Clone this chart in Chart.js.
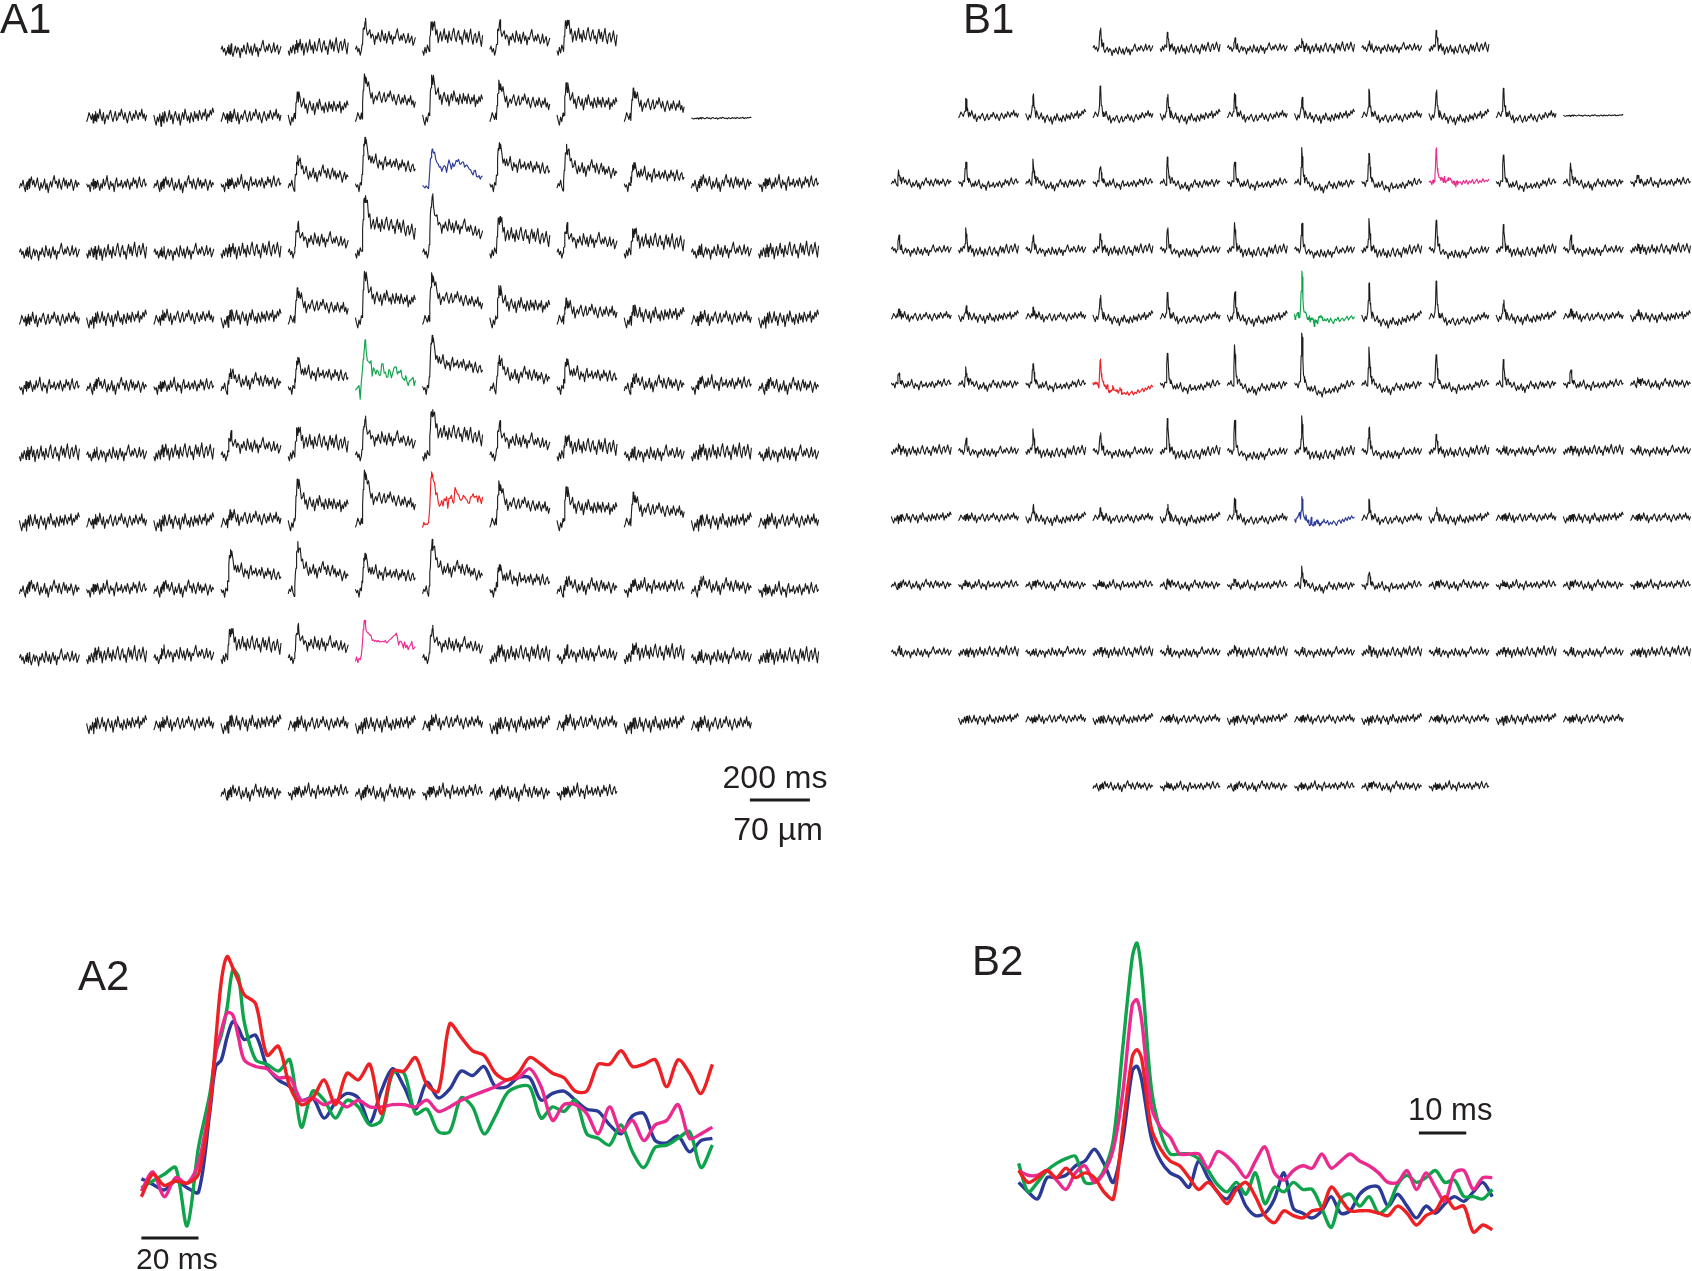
<!DOCTYPE html>
<html>
<head>
<meta charset="utf-8">
<script src="https://cdn.jsdelivr.net/npm/chart.js@4.4.0/dist/chart.umd.min.js"></script>
<style>
html,body{margin:0;padding:0;background:#fff;}
body{width:1692px;height:1271px;overflow:hidden;position:relative;font-family:"Liberation Sans",Arial,Helvetica,sans-serif;color:#231f20;}
canvas{position:absolute;}
.lbl{position:absolute;line-height:1;white-space:nowrap;}
</style>
</head>
<body>
<canvas id="cA1"></canvas>
<canvas id="cB1"></canvas>
<canvas id="cA2"></canvas>
<canvas id="cB2"></canvas>

<div class="lbl" style="left:0px;top:-2px;font-size:42px;">A1</div>
<div class="lbl" style="left:963px;top:-2px;font-size:42px;">B1</div>
<div class="lbl" style="left:78px;top:955px;font-size:42px;">A2</div>
<div class="lbl" style="left:972px;top:940px;font-size:42px;">B2</div>
<div class="lbl" style="left:675px;top:761px;width:200px;text-align:center;font-size:32px;">200 ms</div>
<div class="lbl" style="left:678px;top:813px;width:200px;text-align:center;font-size:32px;">70 µm</div>
<div class="lbl" style="left:136px;top:1244px;font-size:30px;">20 ms</div>
<div class="lbl" style="left:1408px;top:1094px;font-size:31px;">10 ms</div>

<script>
// ---------------- DATA ----------------
// sample times (ms) inside one grid cell (each cell = 200 ms)
const cellTime = [0,4,8,12,16,20,22,24,26,28,30,32,34,36,40,44,48,52,56,60,64,68,72,76,80,84,88,92,96,100,104,108,112,116,120,124,128,132,136,140,144,148,152,156,160,164,168,172,176,180,184,188,192,196,200];

// response templates (peak = 1) on cellTime
const shapeA = [0,0,0,0,0,0.02,0.1,0.35,0.62,0.82,0.94,1.0,0.96,0.9,
  0.8,0.68,0.62,0.56,0.5,0.5,0.49,0.48,0.48,0.47,
  0.47,0.47,0.48,0.48,0.47,0.47,0.46,0.47,0.47,0.46,
  0.46,0.46,0.45,0.45,0.45,0.44,0.43,0.42,0.41,0.4,
  0.39,0.38,0.37,0.36,0.35,0.35,0.34,0.34,0.33,0.33,0.33];
const shapeB = [0,0,0,0,0,0.05,0.45,1.0,0.85,0.4,0.2,0.1,0.05,0.02,
  -0.02,-0.05,-0.08,-0.1,-0.12,-0.13,-0.14,-0.15,-0.16,-0.16,
  -0.17,-0.17,-0.17,-0.17,-0.17,-0.16,-0.16,-0.16,-0.15,-0.15,
  -0.14,-0.14,-0.13,-0.13,-0.12,-0.11,-0.11,-0.1,-0.09,-0.08,
  -0.08,-0.07,-0.06,-0.05,-0.04,-0.04,-0.03,-0.02,-0.02,-0.01,0];

// background fluctuation patterns on cellTime (same units as the responses)
const noise0 = [0,-4,3,-2,5,1,-3,4,-1,6,2, -5,3,0,7,-2,4,-6,1,5,-3,2, 8,-1,3,-4,6,0,-2,5,9,1,-3, 4,7,-1,2,-5,3,8,0,6,-2,4, 10,1,-3,5,7,-1,3,9,2,-4,6];
const noise1 = [3,-2,-6,1,-3,4,-1,-7,2,-2,5, 0,-4,6,2,-3,1,7,-1,3,-5,2, 6,1,-2,4,-6,0,5,-1,8,3,-2, 2,-4,5,1,-3,6,0,4,-2,7,3, -1,5,2,8,-2,4,1,7,3,9,5];
const noise2 = [-2,2,0,5,-1,-5,1,3,-3,4,0, 6,-2,3,8,1,5,-1,2,7,0,-4, 3,-2,1,6,-3,2,-6,0,4,-1,5, 9,2,4,-2,6,1,-3,3,7,0,5, -2,3,0,6,2,-4,1,5,-1,3,1];
const noise3 = [1,4,-1,2,-4,0,3,-2,5,1,-3, 2,6,-1,-5,0,4,-2,3,1,-6,2, -1,5,0,-3,7,2,-2,4,-4,1,6, -1,3,-5,2,0,5,9,2,-1,4,0, 6,3,-2,1,7,-1,2,5,-3,0,4];
const noise4 = [-3,0,5,2,-1,4,-4,1,3,-2,6, 1,-3,4,0,8,2,-2,5,-5,0,3, -1,4,7,1,-3,2,6,-2,0,5,2, 8,3,-1,5,0,-4,2,6,1,-2,4, 0,7,3,-1,5,2,8,0,4,-2,3];
const noise5 = [2,-1,1,-5,3,0,6,-3,2,4,-2, 3,-1,5,1,-4,2,-2,6,0,3,9, 1,-3,4,0,2,-5,3,7,-1,2,0, 5,-2,1,4,-1,6,2,-3,3,0,7, 2,5,-2,3,8,1,-1,4,6,0,2];

// A1: peak size of the slow response at each recording site (null = no site)
const ampA1 = [
  [null,null,null,0,8,51,51,48,54,null,null,null],
  [null,0,0,0,42,77,77,64,61,48,0,null],
  [0,0,0,5,45,87,0,77,67,38,5,5],
  [0,0,0,5,51,109,106,67,48,42,5,5],
  [0,5,8,10,54,90,85,61,33,20,5,5],
  [5,5,5,25,54,0,96,51,51,15,15,5],
  [5,5,10,38,51,67,87,58,32,5,10,5],
  [5,5,5,15,80,96,0,74,64,51,5,5],
  [5,5,5,74,83,67,87,45,15,15,15,0],
  [0,10,15,54,58,0,54,15,15,20,5,5],
  [null,5,5,10,5,5,10,5,10,5,5,null],
  [null,null,null,0,5,0,5,0,5,null,null,null]
];
// B1: peak size of the fast spike at each recording site
const ampB1 = [
  [null,null,null,43,29,18,15,10,33,null,null,null],
  [null,36,52,63,51,47,43,56,62,58,0,null],
  [23,49,47,38,51,49,72,69,0,65,38,15],
  [29,42,29,29,47,53,59,62,67,49,29,7],
  [15,25,20,52,52,61,0,84,77,40,15,15],
  [25,33,49,0,72,81,116,76,69,49,33,10],
  [10,25,43,38,65,70,71,53,31,5,5,5],
  [0,5,33,22,33,43,0,41,25,5,5,5],
  [0,5,5,5,10,12,38,31,5,5,5,0],
  [8,0,0,5,10,10,5,10,5,5,5,0],
  [null,5,0,5,5,0,5,0,5,0,0,null],
  [null,null,null,0,5,0,0,5,0,null,null,null]
];
// quiet sites [row, col]
const quietA1 = [[1,10]];
const quietB1 = [[1,10]];
// highlighted sites [row, col, series]
const colorSitesA1 = [[2,6,'blue'],[5,5,'green'],[7,6,'red'],[9,5,'magenta']];
const colorSitesB1 = [[2,8,'magenta'],[4,6,'green'],[5,3,'red'],[7,6,'blue']];

// A2 traces (ms, % of red peak)
const timeA2 = [0,4,8,12,16,20,24,26,28,30,32,34,36,40,44,48,52,56,60,64,68,72,76,80,84,88,92,96,100,104,108,112,116,120,124,128,132,136,140,144,148,152,156,160,164,168,172,176,180,184,188,192,196,200];
const redA2 = [-7,3,-2,0,-1,3,33,62,89,100,95,89,83,
  79,56,60,42,34,37,45,34,48,45,52,30,49,49,55,43,40,70,64,58,
  56,48,45,48,55,52,48,46,40,40,52,52,58,51,52,54,42,54,48,39,52];
const greenA2 = [-3,0,3,6,-20,15,39,57,65,77,94,91,71,
  54,52,49,54,24,40,36,28,36,33,25,27,48,48,30,32,22,22,37,33,
  21,29,39,42,42,28,33,31,36,21,19,16,25,13,6,15,16,19,22,6,16];
const magentaA2 = [-4.5,4,-7,1.5,-1,8,35,57,67,75,74,64,54,
  51,50,46,46,36,37,34,36,33,36,33,33,34,34,33,36,31,33,36,38,
  40,42,45,46,50,42,27,34,34,30,21,33,22,27,18,25,27,34,19,21,24];
const blueA2 = [1,-1.5,-4,0,-3,-5,31,51,54,64,71,68,63,
  65,51,45,42,36,37,28,35,39,37,26,40,50,42,32,44,37,41,49,47,
  51,42,42,46,46,36,39,40,36,32,31,25,21,29,30,18,17,20,13,18,19];

// B traces (ms, % of green peak); B2 shows the first 100 ms
const timeB = [0,2,4,6,8,10,12,14,16,18,20,22,24,25,26,28,30,32,34,36,38,40,42,44,46,48,50,52,54,56,58,60,62,64,66,68,70,72,74,76,78,80,82,84,86,88,90,92,94,96,98,100,
  105,110,115,120,125,130,135,140,145,150,155,160,165,170,175,180,185,190,195,200];
const redB = [4,-1,1,4,1,5,1,3,1,-5,-8,22,52,55,
  51,22,13,8,6,1,-4,-1,-5,-10,-4,-1,-7,-15,-18,-13,-15,-16,-13,-12,
  -3,-8,-13,-13,-13,-14,-15,-11,-14,-19,-15,-13,-7,-12,-11,-22,-19,-21,
  -18,-22,-16,-24,-19,-15,-23,-17,-20,-12,-18,-14,-9,-16,-8,-12,-4,-10,-2,-6];
const greenB = [7,-5,-1,4,7,9,10,-1,-1,4,17,56,94,100,
  87,39,20,11,11,11,9,4,-2,-5,-1,-6,3,-10,-3,-5,-1,-4,-4,-12,
  -20,-8,-6,-11,-7,-14,-11,-2,2,-1,1,4,-1,0,-7,-7,-8,-4,
  -8,-3,-12,-2,-9,-14,-4,-7,0,-10,-5,-2,-8,-3,2,-6,-1,3,-4,1];
const magentaB = [4,2,2,4,0,-4,3,6,-1,3,13,37,74,76,
  67,31,22,18,11,11,11,5,12,10,6,1,8,14,3,0,4,6,5,11,
  5,8,11,8,6,3,-1,-1,4,-4,3,-3,-9,3,4,-4,1,1,
  2,-4,5,-1,6,-3,4,0,7,-2,3,8,-1,5,1,9,2,6,3,8];
const blueB = [-1,-5,-8,1,1,2,6,8,13,7,-1,17,46,48,
  42,18,8,3,1,-3,8,1,-5,-8,-3,-11,-15,-14,-8,3,-12,-14,-16,-13,
  -7,-14,-13,-6,-3,-3,-11,-6,-11,-16,-11,-14,-10,-7,-9,-5,-1,-7,
  -10,-4,-14,-8,-12,-5,-9,-15,-6,-3,-10,-1,-7,2,-4,4,-2,6,1,3];

// scale bars (ms)
const scaleBarA1 = 200;
const scaleBarA2 = 20;
const scaleBarB2 = 10;
const windowB2 = 100;

// ---------------- STYLE / LAYOUT ----------------
const COLORS = {red:'#ED2024', green:'#0FA34B', magenta:'#EA2A8E', blue:'#2B3A96', black:'#1c1a1b'};
const noiseSet = [noise0,noise1,noise2,noise3,noise4,noise5];

function setupCanvas(id, L){
  const c = document.getElementById(id);
  c.width = L.w; c.height = L.h;
  c.style.left = L.left+'px'; c.style.top = L.top+'px';
  c.style.width = L.w+'px'; c.style.height = L.h+'px';
  return c;
}
function makeChart(id, L, datasets){
  const c = setupCanvas(id, L);
  return new Chart(c, {
    type:'line',
    data:{datasets},
    options:{
      responsive:false, animation:false, devicePixelRatio:1, events:[],
      parsing:false, normalized:true,
      layout:{padding:0},
      plugins:{legend:{display:false}, tooltip:{enabled:false}},
      elements:{point:{radius:0}, line:{tension:0, borderCapStyle:'butt', borderJoinStyle:'round'}},
      scales:{
        x:{type:'linear', display:false, min:-L.x0/L.pxX, max:(L.w-L.x0)/L.pxX},
        y:{type:'linear', display:false, min:(L.y0-L.h)/L.pxY, max:L.y0/L.pxY}
      }
    }
  });
}
function line(points, color, width, tension){
  return {data:points, borderColor:color, borderWidth:width, fill:false, pointRadius:0, clip:false, tension:tension||0};
}

function gridDatasets(amp, shape, sites, series, sTime, quiet, G){
  const ds = [], top = [];
  amp.forEach((rowArr, r) => rowArr.forEach((a, c) => {
    if (a === null) return;
    const xOff = c*G.colPitch, yOff = -r*G.rowPitch;
    const site = sites.find(s => s[0]===r && s[1]===c);
    if (site) {
      const vals = series[site[2]];
      top.push(line(sTime.map((t,i)=>({x:xOff+t, y:yOff+vals[i]})), COLORS[site[2]], 1.15));
      return;
    }
    const isQuiet = quiet.some(q => q[0]===r && q[1]===c);
    const nz = noiseSet[(r*7 + c*3) % noiseSet.length];
    const g = isQuiet ? 0.25 : G.noiseGain;
    ds.push(line(cellTime.map((t,i)=>({x:xOff+t, y:yOff + a*shape[i] + g*nz[i]})), COLORS.black, 1.1));
  }));
  return ds.concat(top);
}

// A1
const LA1 = {left:0, top:0, w:846, h:860, x0:19.4, y0:50.7, pxX:0.3, pxY:0.52};
const dsA1 = gridDatasets(ampA1, shapeA, colorSitesA1,
  {red:redA2, green:greenA2, magenta:magentaA2, blue:blueA2}, timeA2, quietA1,
  {colPitch:224, rowPitch:130, noiseGain:2.2});
const barA1x = 2435, barA1y = -1441;
dsA1.push(line([{x:barA1x,y:barA1y},{x:barA1x+scaleBarA1,y:barA1y}], COLORS.black, 3));
makeChart('cA1', LA1, dsA1);

// B1
const LB1 = {left:846, top:0, w:846, h:860, x0:45.3, y0:48.5, pxX:0.3, pxY:0.46};
const dsB1 = gridDatasets(ampB1, shapeB, colorSitesB1,
  {red:redB, green:greenB, magenta:magentaB, blue:blueB}, timeB, quietB1,
  {colPitch:224, rowPitch:146, noiseGain:1.6});
makeChart('cB1', LB1, dsB1);

// A2
const LA2 = {left:100, top:880, w:680, h:391, x0:41.4, y0:301, pxX:2.855, pxY:2.245};
const ovA2 = [['red',redA2],['magenta',magentaA2],['green',greenA2],['blue',blueA2]]
  .map(([k,v]) => line(timeA2.map((t,i)=>({x:t, y:v[i]})), COLORS[k], 3.4, 0.3));
const barA2y = -25.4;
ovA2.push(line([{x:0,y:barA2y},{x:scaleBarA2,y:barA2y}], COLORS.black, 3));
makeChart('cA2', LA2, ovA2);

// B2
const LB2 = {left:990, top:880, w:560, h:391, x0:28.6, y0:300, pxX:4.737, pxY:2.37};
const ovB2 = [['red',redB],['magenta',magentaB],['green',greenB],['blue',blueB]]
  .map(([k,v]) => line(timeB.map((t,i)=>({x:t, y:v[i]})).filter(p=>p.x<=windowB2), COLORS[k], 3.4, 0.3));
const barB2x = 84.5, barB2y = 19.8;
ovB2.push(line([{x:barB2x,y:barB2y},{x:barB2x+scaleBarB2,y:barB2y}], COLORS.black, 3));
makeChart('cB2', LB2, ovB2);
</script>
</body>
</html>
